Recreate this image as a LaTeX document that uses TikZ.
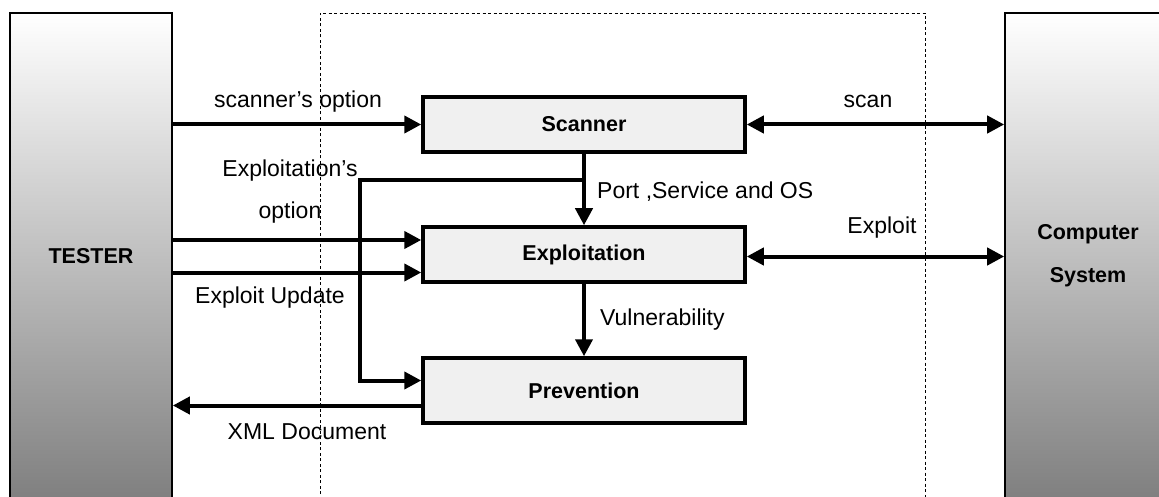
\documentclass[tikz,border=0pt]{standalone}
\usepackage{fontspec}
\setmainfont{Liberation Sans}
\usetikzlibrary{arrows.meta}

\begin{document}
\begin{tikzpicture}[x=1pt,y=-1pt,
  lbl/.style={font=\fontsize{23}{27}\selectfont, inner sep=0pt},
  side/.style={draw=black, line width=1.6pt, top color=white, middle color=black!14,
    bottom color=black!50, font=\fontsize{21.5}{43}\selectfont\bfseries, align=center},
  module/.style={draw=black, line width=3.5pt, fill=black!6, minimum width=322pt,
    font=\fontsize{21.5}{25}\selectfont\bfseries},
  frame/.style={draw=black, line width=0.9pt, dash pattern=on 3pt off 2.5pt},
  flow/.style={line width=4pt, -{Triangle[length=17pt,width=17pt]}},
  both/.style={line width=4pt, {Triangle[length=17pt,width=17pt]}-{Triangle[length=17pt,width=17pt]}},
]
\clip (0,0) rectangle (1159,497);
\fill[white] (0,0) rectangle (1159,497);

% system boundary
\draw[frame] (320,505) -- (320,13) -- (925,13) -- (925,505);

% actors on both sides
\node[side, minimum width=162pt, minimum height=486pt] (tester) at (91,256) {TESTER};
\node[side, minimum width=166pt, minimum height=486pt] (comp) at (1088,256) {Computer\\System};

% modules
\node[module, minimum height=55pt] (scanner) at (584,124.5) {Scanner};
\node[module, minimum height=55pt] (exploit) at (584,254.5) {Exploitation};
\node[module, minimum height=65pt] (prev) at (584,390.5) {Prevention};

% connectors
\draw[flow] (scanner.west -| tester.east) -- (scanner.west);
\draw[both] (scanner.east) -- (scanner.east -| comp.west);
\draw[flow] (scanner.south) -- (exploit.north);
\coordinate (split) at (584,180);
\coordinate (bend) at (360,180);
\draw[flow] (split) -- (bend) |- ([yshift=10pt]prev.west);
\draw[flow] ([yshift=14.5pt]exploit.west -| tester.east) -- ([yshift=14.5pt]exploit.west);
\draw[flow] ([yshift=-18pt]exploit.west -| tester.east) -- ([yshift=-18pt]exploit.west);
\draw[both] ([yshift=-2pt]exploit.east) -- ([yshift=-2pt]exploit.east -| comp.west);
\draw[flow] (exploit.south) -- (prev.north);
\draw[flow] ([yshift=-15pt]prev.west) -- ([yshift=-15pt]prev.west -| tester.east);

% labels
\node[lbl] (l1) at (298,102) {scanner’s option};
\node[lbl] (l2) at (868,101) {scan};
\node[lbl, align=center, font=\fontsize{23}{42}\selectfont] (l3) at (290,192) {Exploitation’s\\option};
\node[lbl] (l4) at (270,298) {Exploit Update};
\node[lbl] (l5) at (307,432) {XML Document};
\node[lbl, anchor=west] (l6) at (597,192) {Port ,Service and OS};
\node[lbl] (l7) at (882,228) {Exploit};
\node[lbl, anchor=west] (l8) at (600,320) {Vulnerability};
\end{tikzpicture}
\end{document}
